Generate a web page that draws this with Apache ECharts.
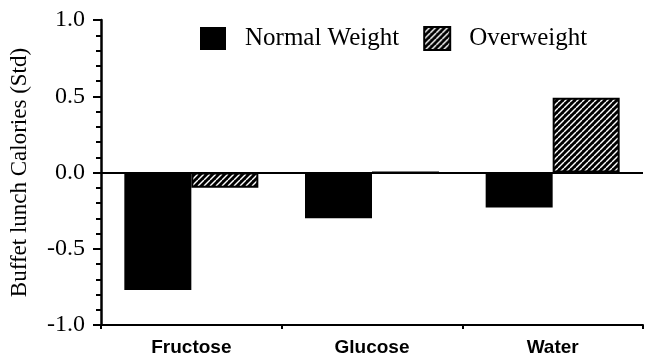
<!DOCTYPE html>
<html>
<head>
<meta charset="utf-8">
<script src="https://cdn.jsdelivr.net/npm/echarts@6/dist/echarts.min.js"></script>
<style>html,body{margin:0;padding:0;background:#fff}#c{width:659px;height:364px}</style>
</head>
<body>
<div id="c"></div>
<script>
var categories = ['Fructose', 'Glucose', 'Water'];
var normalWeight = [-0.77, -0.30, -0.23];
var overweight = [-0.10, 0.0, 0.49];
var seriesNames = ['Normal Weight', 'Overweight'];
var yTicks = [-1.0, -0.5, 0.0, 0.5, 1.0];

function hatch() {
  var s = 6;
  var c = document.createElement('canvas');
  c.width = s; c.height = s;
  var g = c.getContext('2d');
  g.fillStyle = '#000'; g.fillRect(0, 0, s, s);
  g.strokeStyle = '#fff'; g.lineWidth = 1.4;
  for (var k = -1; k <= 1; k++) {
    g.beginPath();
    g.moveTo(k * s, s);
    g.lineTo(k * s + s, 0);
    g.stroke();
  }
  return c;
}
var pat = { image: hatch(), repeat: 'repeat' };

var chart = echarts.init(document.getElementById('c'), null, { renderer: 'canvas' });
chart.setOption({
  animation: false,
  backgroundColor: '#fff',
  grid: { left: 100, right: 16, top: 20, bottom: 39, containLabel: false },
  legend: {
    left: 195, top: 21,
    itemWidth: 26, itemHeight: 23, itemGap: 24,
    icon: 'rect',
    data: seriesNames,
    formatter: function (n) { return '{a|' + n + '}'; },
    textStyle: {
      color: '#000', fontFamily: 'Liberation Serif', fontSize: 25,
      rich: { a: { fontFamily: 'Liberation Serif', fontSize: 25, color: '#000', padding: [0, 0, 0, 14] } }
    }
  },
  xAxis: {
    type: 'category',
    data: categories,
    axisLine: { onZero: false, lineStyle: { color: '#000', width: 2 } },
    axisTick: { show: true, alignWithLabel: false, length: 4, lineStyle: { color: '#000', width: 2 } },
    axisLabel: { color: '#000', fontFamily: 'Liberation Sans', fontSize: 19, fontWeight: 'bold', margin: 13 },
    splitLine: { show: false }
  },
  yAxis: {
    type: 'value',
    min: yTicks[0], max: yTicks[yTicks.length - 1], interval: 0.5,
    name: 'Buffet lunch Calories (Std)',
    nameLocation: 'middle', nameGap: 70,
    nameTextStyle: { color: '#000', fontFamily: 'Liberation Serif', fontSize: 23 },
    axisLine: { show: true, lineStyle: { color: '#000', width: 2.5 } },
    axisTick: { show: true, length: 8, lineStyle: { color: '#000', width: 2 } },
    minorTick: { show: true, splitNumber: 5, length: 5, lineStyle: { color: '#000', width: 2 } },
    axisLabel: {
      color: '#000', fontFamily: 'Liberation Serif', fontSize: 24, margin: 16,
      formatter: function (v) { return v.toFixed(1); }
    },
    splitLine: { show: false }
  },
  series: [
    {
      name: seriesNames[0], type: 'bar', data: normalWeight,
      barWidth: 67, barGap: '0%',
      itemStyle: { color: '#000' },
      markLine: {
        silent: true, symbol: 'none', label: { show: false },
        lineStyle: { color: '#000', width: 2, type: 'solid' },
        data: [{ yAxis: 0 }]
      }
    },
    {
      name: seriesNames[1], type: 'bar', data: overweight,
      barWidth: 67, barGap: '0%',
      itemStyle: { color: pat, borderColor: '#000', borderWidth: 2 }
    }
  ]
});
</script>
</body>
</html>
